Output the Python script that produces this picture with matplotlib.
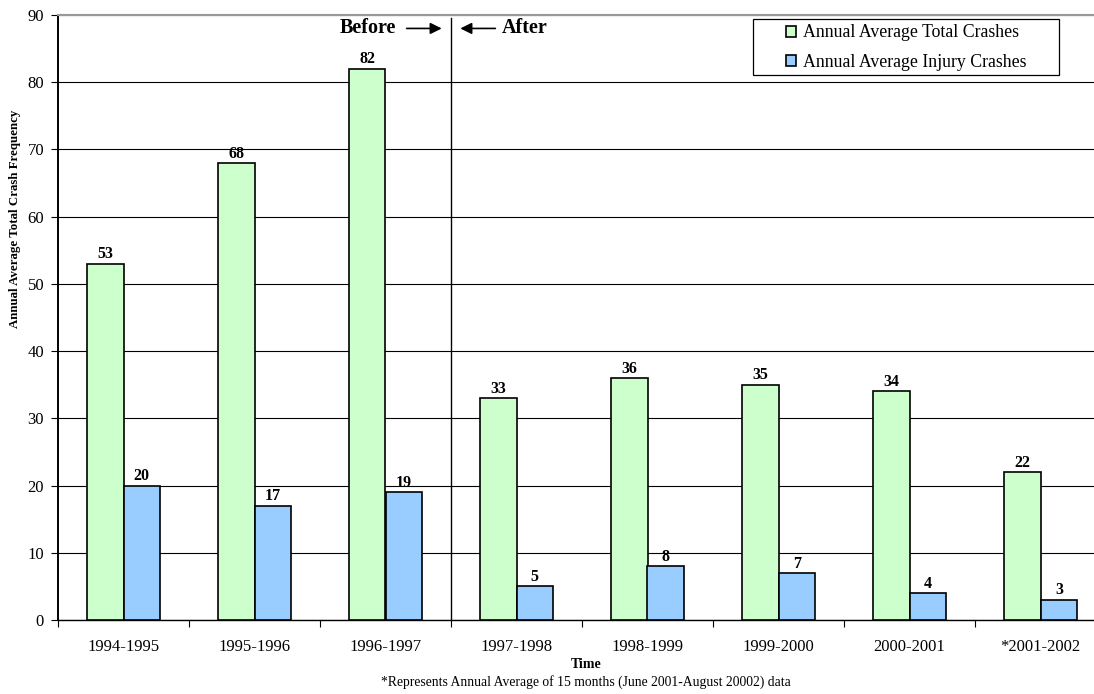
import matplotlib
matplotlib.use("Agg")
import matplotlib.pyplot as plt
from matplotlib.patches import Rectangle
import numpy as np

periods = ["1994-1995", "1995-1996", "1996-1997", "1997-1998",
           "1998-1999", "1999-2000", "2000-2001", "*2001-2002"]
total_crashes = [53, 68, 82, 33, 36, 35, 34, 22]
injury_crashes = [20, 17, 19, 5, 8, 7, 4, 3]
series_names = ["Annual Average Total Crashes", "Annual Average Injury Crashes"]
y_ticks = list(range(0, 91, 10))

plt.rcParams["font.family"] = ["Liberation Serif", "DejaVu Serif"]

W, H = 1094, 694
fig = plt.figure(figsize=(W / 100, H / 100), dpi=100)
ax = fig.add_axes([58 / W, (H - 620) / H, 1048 / W, 605 / H])

x = np.arange(len(periods))
bw = 0.28
green = "#CCFFCC"
blue = "#99CCFF"
b1 = ax.bar(x - bw / 2, total_crashes, bw, color=green, edgecolor="black",
            linewidth=1.2, label=series_names[0], zorder=3)
b2 = ax.bar(x + bw / 2, injury_crashes, bw, color=blue, edgecolor="black",
            linewidth=1.2, label=series_names[1], zorder=3)

for bars in (b1, b2):
    ax.bar_label(bars, fmt="%d", padding=1, fontsize=11.5, fontweight="bold")

ax.set_xlim(-0.5, len(periods) - 0.5)
ax.set_ylim(0, 90)
ax.set_yticks(y_ticks)
ax.yaxis.grid(True, color="black", linewidth=0.8, zorder=0)
ax.set_axisbelow(True)

ax.set_xticks(x)
ax.set_xticklabels(periods, fontsize=12)
ax.set_xticks(np.arange(len(periods) + 1) - 0.5, minor=True)
ax.tick_params(axis="x", which="major", length=0, pad=14)
ax.tick_params(axis="x", which="minor", length=5, width=0.8, direction="out")
ax.tick_params(axis="y", length=5, width=0.8, labelsize=12, pad=5)

ax.spines["right"].set_visible(False)
ax.spines["top"].set_color("#999999")
ax.spines["top"].set_linewidth(1.5)
ax.spines["left"].set_linewidth(1.4)
ax.spines["bottom"].set_linewidth(1.0)

# before/after divider
ax.axvline(2.5, color="black", linewidth=1.0, zorder=4, ymax=0.995)
ax.annotate("", xy=(2.45, 88), xytext=(2.14, 88),
            arrowprops=dict(arrowstyle="-|>", color="black", lw=1.2,
                            mutation_scale=17))
ax.annotate("", xy=(2.55, 88), xytext=(2.86, 88),
            arrowprops=dict(arrowstyle="-|>", color="black", lw=1.2,
                            mutation_scale=17))
ax.text(2.08, 88, "Before", ha="right", va="center", fontsize=14.5,
        fontweight="bold")
ax.text(2.89, 88, "After", ha="left", va="center", fontsize=14.5,
        fontweight="bold")

# legend inside a wider framed box
fig.add_artist(Rectangle((753 / W, 1 - 75 / H), 306 / W, 56 / H,
                         transform=fig.transFigure, facecolor="white",
                         edgecolor="black", linewidth=0.9, zorder=5))
leg = fig.legend(handles=[b1, b2], labels=series_names, loc="center",
                 bbox_to_anchor=(906 / W, 1 - 47.5 / H), fontsize=12.8,
                 frameon=False, handlelength=0.6, handleheight=0.6,
                 handletextpad=0.35, borderpad=0.0, labelspacing=0.68)
leg.set_zorder(6)

fig.text(15 / W, 1 - 219 / H, "Annual Average Total Crash Frequency",
         rotation=90, ha="center", va="center", fontsize=9.3, fontweight="bold")
fig.text(586 / W, 1 - 664 / H, "Time", ha="center", va="center",
         fontsize=10, fontweight="bold")
fig.text(586 / W, 1 - 682 / H,
         "*Represents Annual Average of 15 months (June 2001-August 20002) data",
         ha="center", va="center", fontsize=9.8)

fig.savefig("out.png", dpi=100)
